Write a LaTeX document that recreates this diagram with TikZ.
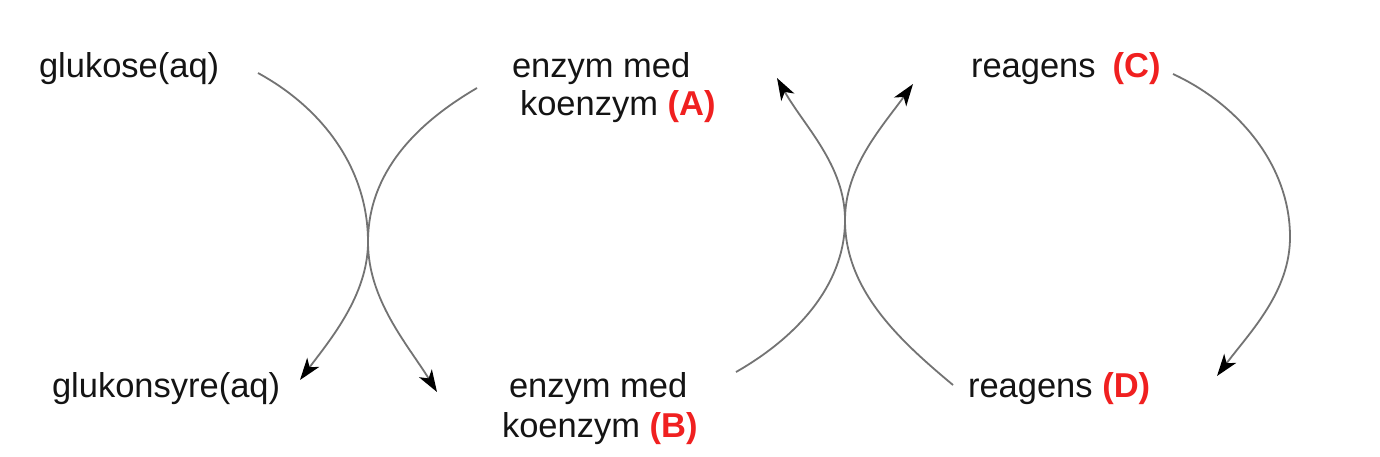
\documentclass[tikz,border=0pt]{standalone}
\usepackage{fontspec}
\setmainfont{Liberation Sans}
\usetikzlibrary{arrows.meta}
\definecolor{lbl}{RGB}{20,20,20}
\definecolor{redlbl}{RGB}{240,32,32}
\definecolor{curve}{RGB}{115,115,115}
\newcommand{\rl}[1]{\textcolor{redlbl}{\bfseries #1}}
\tikzset{
  lab/.style={inner sep=0pt, outer sep=0pt, text=lbl, font=\fontsize{34.5}{40}\selectfont, anchor=base west},
  conn/.style={draw=curve, line width=1.8pt, -{Stealth[length=22pt,width=15pt,inset=6pt,fill=black,color=black]}}
}
\begin{document}
\begin{tikzpicture}[x=1pt,y=-1pt]
\useasboundingbox[fill=white] (0,0) rectangle (1380,456);
% labels
\node[lab] (glu) at (39,77) {glukose(aq)};
\node[lab] (gls) at (52,397) {glukonsyre(aq)};
\node[lab] (enzA1) at (512,77) {enzym med};
\node[lab] (enzA2) at (520,115) {koenzym \rl{(A)}};
\node[lab] (enzB1) at (509,397) {enzym med};
\node[lab] (enzB2) at (502,437) {koenzym \rl{(B)}};
\node[lab] (reaC) at (971,77) {reagens\hspace{17pt}\rl{(C)}};
\node[lab] (reaD) at (968,397) {reagens \rl{(D)}};
% connector ends
\coordinate (s1) at (258,73);   \coordinate (e1) at (300,380);
\coordinate (s2) at (477,88);   \coordinate (e2) at (437,392);
\coordinate (m1) at (368,242);
\coordinate (s3) at (736,372);  \coordinate (e3) at (777,78);
\coordinate (s4) at (953,385);  \coordinate (e4) at (913,84);
\coordinate (m2) at (845,220);
\coordinate (s5) at (1173,74);  \coordinate (e5) at (1217,376);
\coordinate (m5) at (1290,237);
% glukose -> glukonsyre
\draw[conn] (s1) .. controls (324,109) and (368,170) .. (m1)
                 .. controls (368,295) and (330,340) .. (e1);
% enzym A -> enzym B
\draw[conn] (s2) .. controls (417,123) and (368,172) .. (m1)
                 .. controls (368,300) and (408,345) .. (e2);
% enzym B -> enzym A
\draw[conn] (s3) .. controls (794,339) and (845,287) .. (m2)
                 .. controls (845,165) and (804,126) .. (e3);
% reagens D -> reagens C
\draw[conn] (s4) .. controls (899,340) and (845,290) .. (m2)
                 .. controls (845,167) and (882,127) .. (e4);
% reagens C -> reagens D
\draw[conn] (s5) .. controls (1238,104) and (1290,165) .. (m5)
                 .. controls (1290,292) and (1250,332) .. (e5);
\end{tikzpicture}
\end{document}
